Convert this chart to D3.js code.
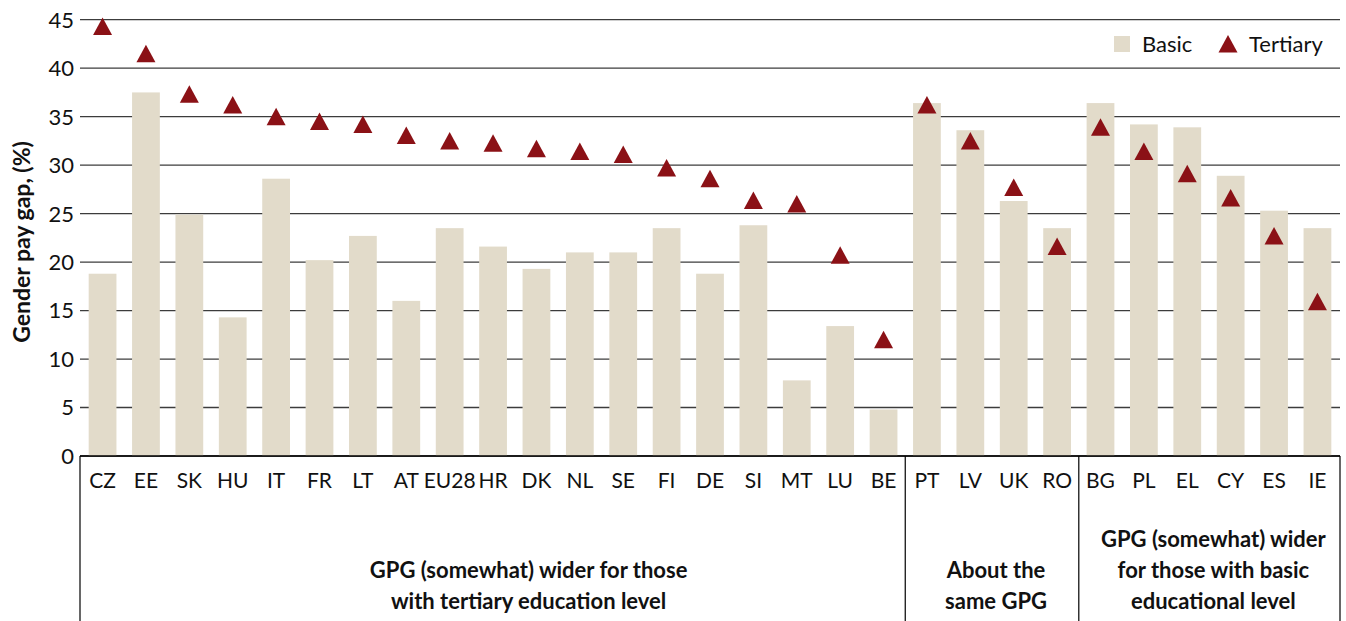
<!DOCTYPE html>
<html>
<head>
<meta charset="utf-8">
<script src="https://cdn.jsdelivr.net/npm/d3@7"></script>
<style>
  body { margin: 0; background: #fff; }
  svg { display: block; font-family: Lato, "Noto Sans", sans-serif; }
</style>
</head>
<body>
<svg id="chart" width="1346" height="621"></svg>
<script>
// dados
var paises = ["CZ","EE","SK","HU","IT","FR","LT","AT","EU28","HR","DK","NL","SE","FI","DE","SI","MT","LU","BE",
              "PT","LV","UK","RO","BG","PL","EL","CY","ES","IE"];
var basico = [18.8,37.5,24.9,14.3,28.6,20.2,22.7,16.0,23.5,21.6,19.3,21.0,21.0,23.5,18.8,23.8,7.8,13.4,4.8,
              36.4,33.6,26.3,23.5,36.4,34.2,33.9,28.9,25.3,23.5];
var terciario = [44.3,41.5,37.3,36.2,35.0,34.5,34.2,33.05,32.5,32.25,31.7,31.4,31.1,29.7,28.6,26.35,26.0,20.7,12.0,
                 36.2,32.5,27.7,21.6,33.9,31.4,29.1,26.6,22.7,15.9];
var yTicks = [0,5,10,15,20,25,30,35,40,45];
var grupoInicio = ["CZ","PT","BG"];
var grupoFim = ["BE","RO","IE"];
var grupoTexto = [["GPG (somewhat) wider for those","with tertiary education level"],
                  ["About the","same GPG"],
                  ["GPG (somewhat) wider","for those with basic","educational level"]];
var legendaNomes = ["Basic","Tertiary"];

var svg = d3.select("#chart");
var esq = 80, dir = 1340, topo = 19.7, base = 456;

var xScale = d3.scaleBand().domain(paises).range([esq, dir])
  .paddingInner(0.36).paddingOuter(0.2);
var yScale = d3.scaleLinear().domain([0, 45]).range([base, topo]);

//----------------------------------------------- grade horizontal
svg.append("g").selectAll("line")
  .data(yTicks)
  .enter()
  .append("line")
  .attr("x1", esq)
  .attr("x2", dir)
  .attr("y1", function(d) { return yScale(d); })
  .attr("y2", function(d) { return yScale(d); })
  .attr("stroke", "#3c3c3c")
  .attr("stroke-width", 1.3);

// rotulos eixo y
svg.append("g").selectAll("text")
  .data(yTicks)
  .enter()
  .append("text")
  .attr("x", 74)
  .attr("y", function(d) { return yScale(d); })
  .attr("dy", "0.36em")
  .attr("text-anchor", "end")
  .attr("font-size", "22px")
  .attr("fill", "#111")
  .text(function(d) { return d; });

//----------------------------------------------- barras
svg.append("g").selectAll("rect")
  .data(paises)
  .enter()
  .append("rect")
  .attr("x", function(d) { return xScale(d); })
  .attr("width", xScale.bandwidth())
  .attr("y", function(d, i) { return yScale(basico[i]); })
  .attr("height", function(d, i) { return base - yScale(basico[i]); })
  .attr("fill", "#e2dbca");

// linha do zero por cima das barras
svg.append("line")
  .attr("x1", esq).attr("x2", dir)
  .attr("y1", base).attr("y2", base)
  .attr("stroke", "#000").attr("stroke-width", 1.3);

//----------------------------------------------- triangulos
// triangulo centrado na caixa (nao no baricentro)
var trianguloTipo = {
  draw: function(ctx) {
    ctx.moveTo(0, -9);
    ctx.lineTo(9.5, 8.5);
    ctx.lineTo(-9.5, 8.5);
    ctx.closePath();
  }
};
var tri = d3.symbol().type(trianguloTipo);
svg.append("g").selectAll("path")
  .data(paises)
  .enter()
  .append("path")
  .attr("d", tri)
  .attr("transform", function(d, i) {
    return "translate(" + (xScale(d) + xScale.bandwidth() / 2) + "," + yScale(terciario[i]) + ")";
  })
  .attr("fill", "#8b1116");

//----------------------------------------------- rotulos eixo x
svg.append("g").selectAll("text")
  .data(paises)
  .enter()
  .append("text")
  .attr("x", function(d) { return xScale(d) + xScale.bandwidth() / 2; })
  .attr("y", 488)
  .attr("text-anchor", "middle")
  .attr("font-size", "21px")
  .attr("fill", "#111")
  .text(function(d) { return d; });

//----------------------------------------------- grupos
var step = xScale.step();
function bordaEsq(p) { return xScale(p) - step * xScale.paddingInner() / 2; }
function bordaDir(p) { return xScale(p) + xScale.bandwidth() + step * xScale.paddingInner() / 2; }

var separadores = [esq, bordaEsq("PT"), bordaEsq("BG"), dir];
svg.append("g").selectAll("line")
  .data(separadores)
  .enter()
  .append("line")
  .attr("x1", function(d) { return d; })
  .attr("x2", function(d) { return d; })
  .attr("y1", base)
  .attr("y2", 621)
  .attr("stroke", "#000")
  .attr("stroke-width", 1.2);

grupoTexto.forEach(function(linhas, g) {
  var ini = g === 0 ? esq : bordaEsq(grupoInicio[g]);
  var fim = g === 2 ? dir : bordaDir(grupoFim[g]);
  var cx = (ini + fim) / 2 + (g === 0 ? 36 : 4);
  var n = linhas.length;
  svg.append("text")
    .attr("text-anchor", "middle")
    .attr("font-size", "22px")
    .attr("font-weight", "bold")
    .attr("fill", "#111")
    .selectAll("tspan")
    .data(linhas)
    .enter()
    .append("tspan")
    .attr("x", cx)
    .attr("y", function(d, i) { return 609 - (n - 1 - i) * 31; })
    .text(function(d) { return d; });
});

//----------------------------------------------- titulo eixo y
svg.append("text")
  .attr("transform", "translate(30,242) rotate(-90)")
  .attr("text-anchor", "middle")
  .attr("font-size", "23px")
  .attr("font-weight", "bold")
  .attr("fill", "#111")
  .text("Gender pay gap, (%)");

//----------------------------------------------- legenda
var leg = svg.append("g");
leg.append("rect")
  .attr("x", 1114).attr("y", 36).attr("width", 16).attr("height", 16)
  .attr("fill", "#e2dbca");
leg.append("text")
  .attr("x", 1142).attr("y", 52)
  .attr("font-size", "22px").attr("fill", "#111")
  .text(legendaNomes[0]);
leg.append("path")
  .attr("d", tri)
  .attr("transform", "translate(1228,44)")
  .attr("fill", "#8b1116");
leg.append("text")
  .attr("x", 1249).attr("y", 52)
  .attr("font-size", "22px").attr("fill", "#111")
  .text(legendaNomes[1]);
</script>
</body>
</html>
